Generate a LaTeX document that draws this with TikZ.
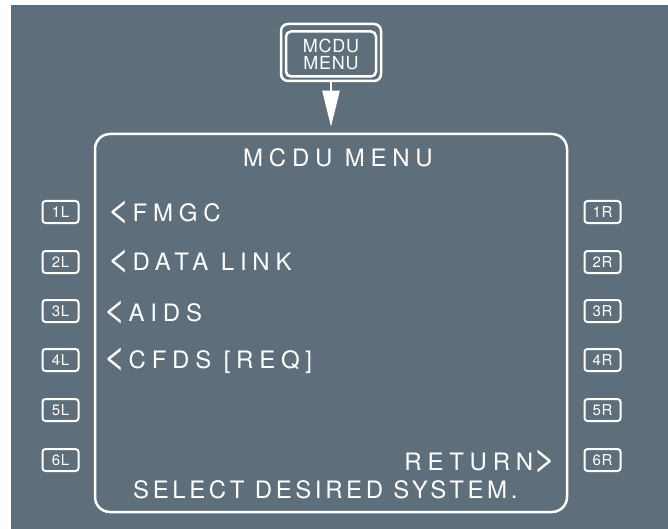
\documentclass[tikz,border=0pt]{standalone}
\usepackage{fontspec}
\usepackage{graphicx}
\usetikzlibrary{arrows.meta}
\newfontfamily\scrfont[LetterSpace=24]{TeX Gyre Heros}
\newfontfamily\botfont[LetterSpace=15]{TeX Gyre Heros}
\newfontfamily\keyfont[LetterSpace=4]{TeX Gyre Heros}
\newcommand\chevl{\scalebox{1.65}[1.5]{<}\hspace{0.1em}}
\newcommand\chevr{\hspace{0.02em}\scalebox{1.65}[1.5]{>}}
\definecolor{panel}{RGB}{94,110,123}
\tikzset{
  scrtext/.style={text=white, inner sep=0pt, font=\scrfont\fontsize{24}{24}\selectfont},
  bottext/.style={text=white, inner sep=0pt, font=\botfont\fontsize{24}{24}\selectfont},
  lsk/.style={draw=white, line width=2pt, rounded corners=3pt, minimum width=36pt, minimum height=22pt, inner sep=0pt, text=white, font=\keyfont\fontsize{15}{15}\selectfont},
  frame/.style={draw=white, line width=2.5pt, rounded corners=15pt, inner sep=0pt}
}
\begin{document}
\begin{tikzpicture}[x=1pt,y=-1pt]
\useasboundingbox (0,0) rectangle (668,529);
\fill[panel] (11,5) rectangle (668,529);
% MCDU MENU key
\node[draw=white, line width=2.5pt, rounded corners=7pt, minimum width=100pt, minimum height=57pt, inner sep=0pt] (keyout) at (331,52.5) {};
\node[draw=white, line width=2.5pt, rounded corners=5pt, minimum width=90pt, minimum height=45pt, inner sep=0pt, align=center, text=white, font=\keyfont\fontsize{18}{17}\selectfont] (key) at (331,54) {MCDU\\MENU};
% screen
\node[frame, minimum width=472pt, minimum height=378pt] (screen) at (331,323) {};
\draw[white, line width=2.5pt, -{Triangle[width=17pt,length=36pt]}, shorten >=6pt] (keyout.south) -- (screen.north);
% title and lines
\node[scrtext, anchor=base] (title) at (338,167) {MCDU MENU};
\node[scrtext, anchor=base west] (l1) at (107,222) {\chevl FMGC};
\node[scrtext, anchor=base west] (l2) at (107,270) {\chevl DATA LINK};
\node[scrtext, anchor=base west] (l3) at (103,321) {\chevl AIDS};
\node[scrtext, anchor=base west] (l4) at (103,368) {\chevl CFDS [REQ]};
\node[scrtext, anchor=base east] (r6) at (557,470) {RETURN\chevr};
\node[bottext, anchor=base west] (sel) at (133,498) {SELECT DESIRED SYSTEM.};
% line select keys
\foreach \i/\y in {1/212,2/262,3/311,4/360,5/410,6/460}{
  \node[lsk] (k\i L) at (60.5,\y) {\i L};
  \node[lsk] (k\i R) at (602.5,\y) {\i R};
}
\end{tikzpicture}
\end{document}
